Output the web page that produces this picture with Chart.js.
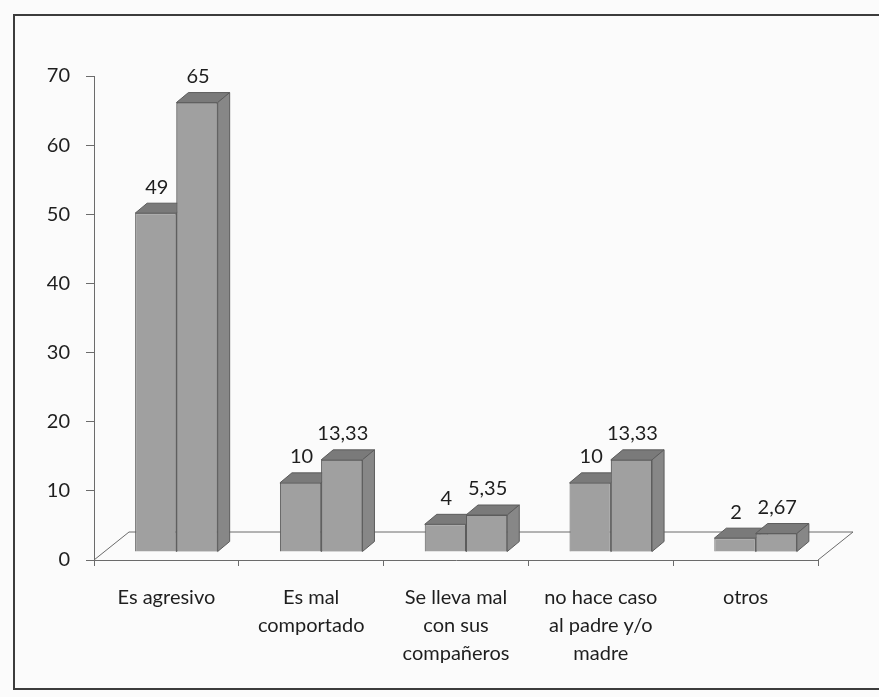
<!DOCTYPE html>
<html>
<head>
<meta charset="utf-8">
<script src="https://cdn.jsdelivr.net/npm/chart.js@4"></script>
<style>
  html, body { margin: 0; padding: 0; background: #fbfbfb; }
  #wrap { position: relative; width: 879px; height: 697px; }
</style>
</head>
<body>
<div id="wrap">
  <canvas id="myChart" width="879" height="697"></canvas>
</div>
<script>
// data
const categories = [
    'Es agresivo',
    ['Es mal', 'comportado'],
    ['Se lleva mal', 'con sus', 'compañeros'],
    ['no hace caso', 'al padre y/o', 'madre'],
    'otros'
];
const serie1 = [49, 10, 4, 10, 2];
const serie2 = [65, 13.33, 5.35, 13.33, 2.67];
const yTicks = [0, 10, 20, 30, 40, 50, 60, 70];

const axisColor = '#6b6b6b';
const textColor = '#1e1e1e';
const font = { family: 'Lato, "Open Sans", sans-serif', size: 20 };

// fake 3d look like the old excel chart
const front = { x: 10, y: -8 };
const depth = { x: 12, y: 10 };
const floorDepth = { x: 35, y: 28 };

function drawFaces(ctx, bar) {
    const { x, y, base, width } = bar.getProps(['x', 'y', 'base', 'width'], true);
    const l = x - width / 2;
    const r = x + width / 2;
    ctx.lineWidth = 1;
    ctx.strokeStyle = '#5c5c5c';

    ctx.beginPath();
    ctx.moveTo(l, y);
    ctx.lineTo(l + depth.x, y - depth.y);
    ctx.lineTo(r + depth.x, y - depth.y);
    ctx.lineTo(r, y);
    ctx.closePath();
    ctx.fillStyle = '#7a7a7a';
    ctx.fill();
    ctx.stroke();

    ctx.beginPath();
    ctx.moveTo(r, y);
    ctx.lineTo(r + depth.x, y - depth.y);
    ctx.lineTo(r + depth.x, base - depth.y);
    ctx.lineTo(r, base);
    ctx.closePath();
    ctx.fillStyle = '#878787';
    ctx.fill();
    ctx.stroke();
}

const threeD = {
    id: 'threeD',
    beforeDraw(chart) {
        const ctx = chart.ctx;
        ctx.save();
        ctx.fillStyle = '#fbfbfb';
        ctx.fillRect(0, 0, chart.width, chart.height);
        // frame of the scanned chart
        ctx.strokeStyle = '#3c3c3c';
        ctx.lineWidth = 2;
        ctx.beginPath();
        ctx.moveTo(chart.width + 5, 15);
        ctx.lineTo(14, 15);
        ctx.lineTo(14, 689);
        ctx.lineTo(chart.width + 5, 689);
        ctx.stroke();
        ctx.restore();
    },
    beforeDatasetsDraw(chart) {
        const { ctx, chartArea, scales } = chart;
        const y0 = scales.y.getPixelForValue(0);
        ctx.save();
        ctx.strokeStyle = axisColor;
        ctx.lineWidth = 1;
        ctx.beginPath();
        ctx.moveTo(chartArea.left, y0);
        ctx.lineTo(chartArea.left + floorDepth.x, y0 - floorDepth.y);
        ctx.lineTo(chartArea.right + floorDepth.x, y0 - floorDepth.y);
        ctx.lineTo(chartArea.right, y0);
        ctx.stroke();
        ctx.restore();

        ctx.save();
        ctx.translate(front.x, front.y);
    },
    afterDatasetsDraw(chart) {
        const ctx = chart.ctx;
        const m0 = chart.getDatasetMeta(0);
        const m1 = chart.getDatasetMeta(1);
        m0.data.forEach(bar => drawFaces(ctx, bar));
        m1.data.forEach(bar => {
            bar.draw(ctx);
            drawFaces(ctx, bar);
        });

        ctx.font = `${font.size}px ${font.family}`;
        ctx.fillStyle = textColor;
        ctx.textAlign = 'center';
        ctx.textBaseline = 'bottom';
        [m0, m1].forEach((meta, d) => {
            const values = d === 0 ? serie1 : serie2;
            meta.data.forEach((bar, i) => {
                const txt = String(values[i]).replace('.', ',');
                ctx.fillText(txt, bar.x + 1, bar.y - depth.y - 6);
            });
        });
        ctx.restore();
    }
};

const barStyle = {
    backgroundColor: '#a0a0a0',
    borderColor: '#5c5c5c',
    borderWidth: 1,
    categoryPercentage: 0.57,
    barPercentage: 1.0
};

const data = {
    labels: categories,
    datasets: [
        Object.assign({ label: 'Serie 1', data: serie1 }, barStyle),
        Object.assign({ label: 'Serie 2', data: serie2 }, barStyle)
    ]
};

const config = {
    type: 'bar',
    data,
    plugins: [threeD],
    options: {
        responsive: false,
        animation: false,
        layout: { padding: { top: 76, right: 61, left: 0, bottom: 0 } },
        plugins: {
            legend: { display: false },
            tooltip: { enabled: false }
        },
        scales: {
            x: {
                grid: { drawOnChartArea: false, tickLength: 6, color: axisColor, offset: true },
                border: { color: axisColor },
                ticks: { font: Object.assign({ lineHeight: 1.4 }, font), color: textColor, padding: 18, maxRotation: 0 },
                afterFit(scale) { scale.height = 137; }
            },
            y: {
                min: 0,
                max: 70,
                grid: { drawOnChartArea: false, tickLength: 8, color: axisColor },
                border: { color: axisColor },
                ticks: { font, color: textColor, padding: 16 },
                afterBuildTicks(scale) { scale.ticks = yTicks.map(v => ({ value: v })); },
                afterFit(scale) { scale.width = 94; }
            }
        }
    }
};

let myChart = new Chart(document.getElementById('myChart'), config);
</script>
</body>
</html>
